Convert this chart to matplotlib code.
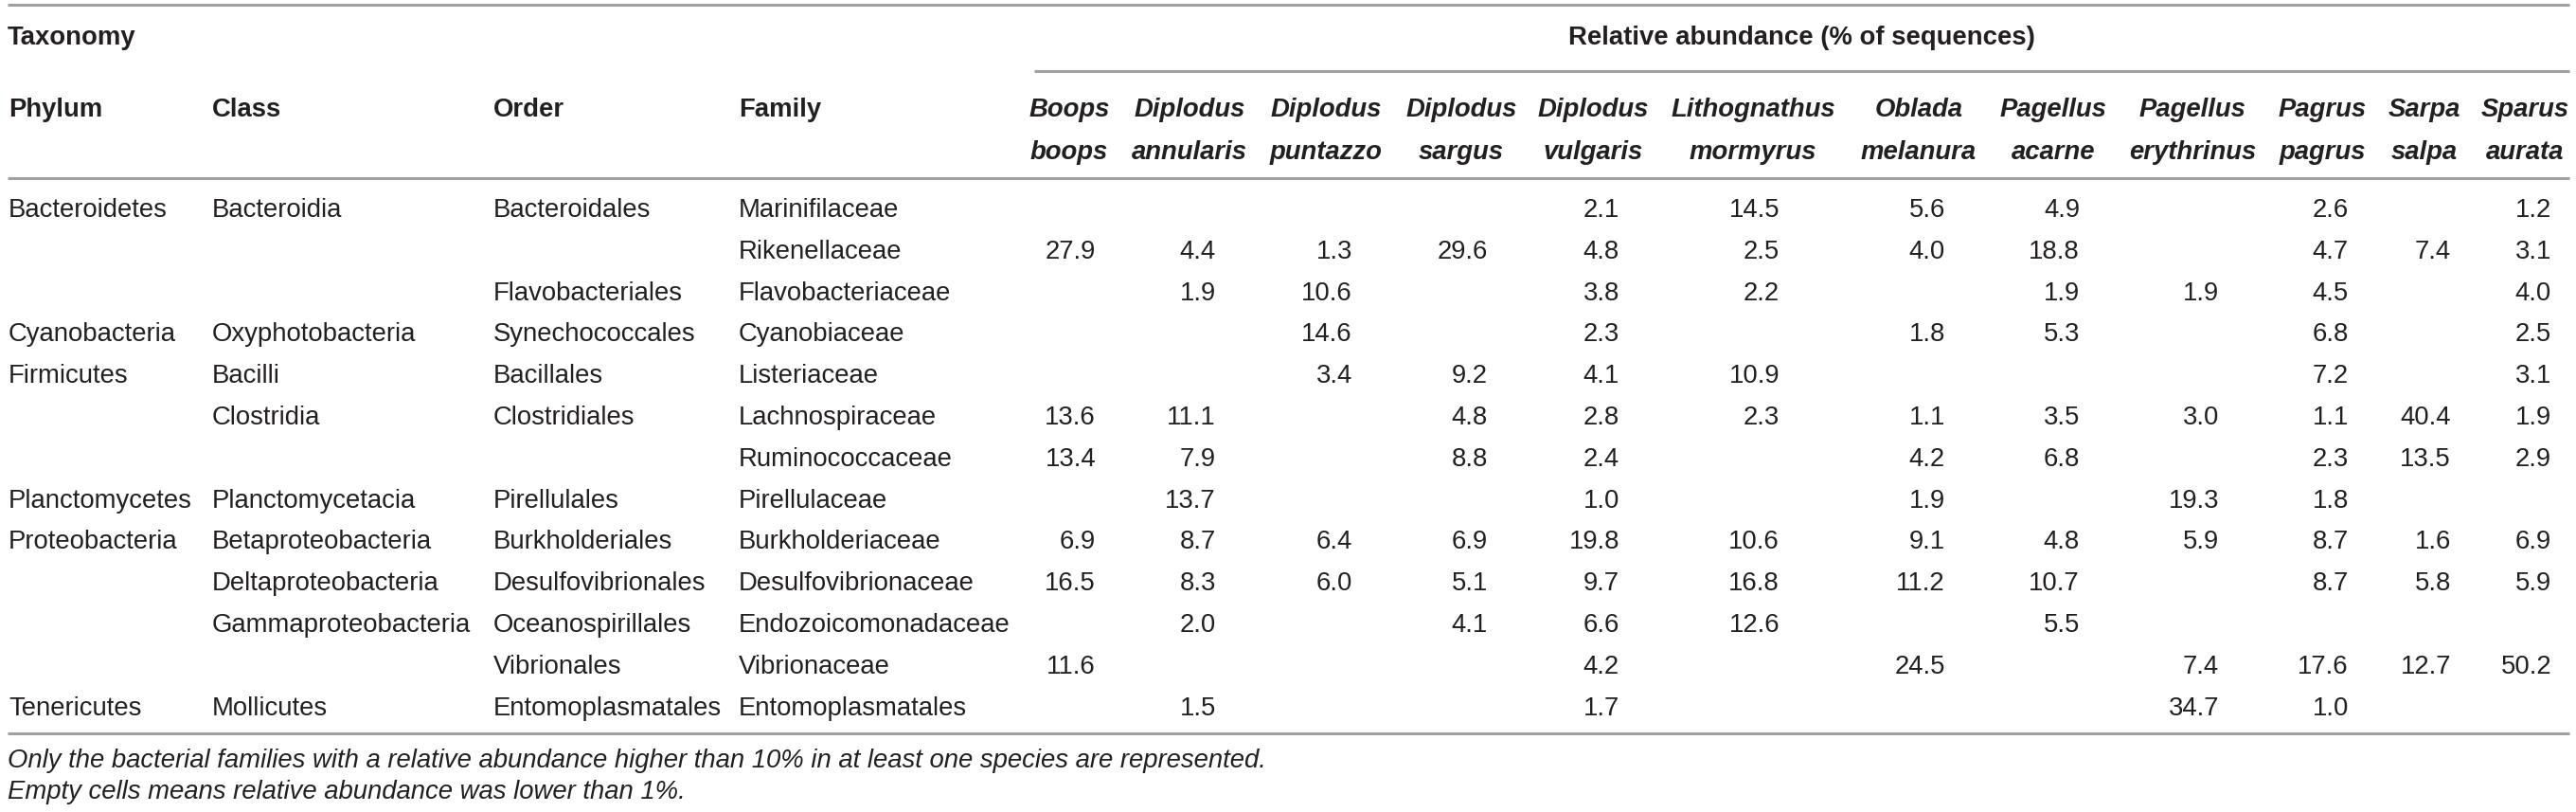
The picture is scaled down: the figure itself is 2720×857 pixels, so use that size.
import matplotlib
matplotlib.use("Agg")
import matplotlib.pyplot as plt

# ---------------- data ----------------
phylum = ["Bacteroidetes", "", "", "Cyanobacteria", "Firmicutes", "", "",
          "Planctomycetes", "Proteobacteria", "", "", "", "Tenericutes"]
klass = ["Bacteroidia", "", "", "Oxyphotobacteria", "Bacilli", "Clostridia", "",
         "Planctomycetacia", "Betaproteobacteria", "Deltaproteobacteria",
         "Gammaproteobacteria", "", "Mollicutes"]
order = ["Bacteroidales", "", "Flavobacteriales", "Synechococcales", "Bacillales",
         "Clostridiales", "", "Pirellulales", "Burkholderiales", "Desulfovibrionales",
         "Oceanospirillales", "Vibrionales", "Entomoplasmatales"]
family = ["Marinifilaceae", "Rikenellaceae", "Flavobacteriaceae", "Cyanobiaceae",
          "Listeriaceae", "Lachnospiraceae", "Ruminococcaceae", "Pirellulaceae",
          "Burkholderiaceae", "Desulfovibrionaceae", "Endozoicomonadaceae",
          "Vibrionaceae", "Entomoplasmatales"]

genus = ["Boops", "Diplodus", "Diplodus", "Diplodus", "Diplodus", "Lithognathus",
         "Oblada", "Pagellus", "Pagellus", "Pagrus", "Sarpa", "Sparus"]
epithet = ["boops", "annularis", "puntazzo", "sargus", "vulgaris", "mormyrus",
           "melanura", "acarne", "erythrinus", "pagrus", "salpa", "aurata"]

N = None
boops_boops        = [N, 27.9, N, N, N, 13.6, 13.4, N, 6.9, 16.5, N, 11.6, N]
diplodus_annularis = [N, 4.4, 1.9, N, N, 11.1, 7.9, 13.7, 8.7, 8.3, 2.0, N, 1.5]
diplodus_puntazzo  = [N, 1.3, 10.6, 14.6, 3.4, N, N, N, 6.4, 6.0, N, N, N]
diplodus_sargus    = [N, 29.6, N, N, 9.2, 4.8, 8.8, N, 6.9, 5.1, 4.1, N, N]
diplodus_vulgaris  = [2.1, 4.8, 3.8, 2.3, 4.1, 2.8, 2.4, 1.0, 19.8, 9.7, 6.6, 4.2, 1.7]
litho_mormyrus     = [14.5, 2.5, 2.2, N, 10.9, 2.3, N, N, 10.6, 16.8, 12.6, N, N]
oblada_melanura    = [5.6, 4.0, N, 1.8, N, 1.1, 4.2, 1.9, 9.1, 11.2, N, 24.5, N]
pagellus_acarne    = [4.9, 18.8, 1.9, 5.3, N, 3.5, 6.8, N, 4.8, 10.7, 5.5, N, N]
pagellus_erythr    = [N, N, 1.9, N, N, 3.0, N, 19.3, 5.9, N, N, 7.4, 34.7]
pagrus_pagrus      = [2.6, 4.7, 4.5, 6.8, 7.2, 1.1, 2.3, 1.8, 8.7, 8.7, N, 17.6, 1.0]
sarpa_salpa        = [N, 7.4, N, N, N, 40.4, 13.5, N, 1.6, 5.8, N, 12.7, N]
sparus_aurata      = [1.2, 3.1, 4.0, 2.5, 3.1, 1.9, 2.9, N, 6.9, 5.9, N, 50.2, N]

species_values = [boops_boops, diplodus_annularis, diplodus_puntazzo, diplodus_sargus,
                  diplodus_vulgaris, litho_mormyrus, oblada_melanura, pagellus_acarne,
                  pagellus_erythr, pagrus_pagrus, sarpa_salpa, sparus_aurata]

title_left = "Taxonomy"
title_right = "Relative abundance (% of sequences)"
tax_headers = ["Phylum", "Class", "Order", "Family"]
footnotes = ["Only the bacterial families with a relative abundance higher than 10% in at least one species are represented.",
             "Empty cells means relative abundance was lower than 1%."]

# ---------------- layout ----------------
W, H = 2720, 857
FAM = ["Liberation Sans", "DejaVu Sans"]
FS = 19.8
TXT = "#231f20"
LINE = "#a0a0a0"

fig = plt.figure(figsize=(W / 100, H / 100), dpi=100)
ax = fig.add_axes([0, 0, 1, 1])
ax.set_xlim(0, W)
ax.set_ylim(H, 0)
ax.axis("off")

tax_x = [9, 224, 521, 780]
col_centers = [1129, 1256, 1400, 1543, 1682, 1851, 2026, 2168, 2315, 2452, 2560, 2666]
val_offset = 28
row0, drow = 219, 43.83
cap_half = 9.85

def t(x, yc, s, ha="left", weight="normal", style="normal", size=FS):
    ax.text(x, yc + cap_half * size / FS, s, ha=ha, va="baseline", fontsize=size,
            family=FAM, weight=weight, style=style, color=TXT)

# lines
lw = 2.2
ax.plot([8, 2713], [5, 5], color=LINE, lw=lw, solid_capstyle="butt")
ax.plot([1092, 2713], [75, 75], color=LINE, lw=lw, solid_capstyle="butt")
ax.plot([8, 2713], [188, 188], color=LINE, lw=lw, solid_capstyle="butt")
ax.plot([8, 2713], [774, 774], color=LINE, lw=lw, solid_capstyle="butt")

# headers
t(8, 37, title_left, weight="bold")
t((1092 + 2713) / 2, 37, title_right, ha="center", weight="bold")
for x, h in zip(tax_x, tax_headers):
    t(x, 113, h, weight="bold")
for c, g, e in zip(col_centers, genus, epithet):
    t(c, 113, g, ha="center", weight="bold", style="italic")
    t(c, 158, e, ha="center", weight="bold", style="italic")

# body
for i in range(len(family)):
    y = row0 + drow * i
    for x, col in zip(tax_x, [phylum, klass, order, family]):
        if col[i]:
            t(x, y, col[i])
    for c, vals in zip(col_centers, species_values):
        v = vals[i]
        if v is not None:
            t(c + val_offset, y, f"{v:.1f}", ha="right")

# footnotes
t(8, 800, footnotes[0], style="italic")
t(8, 833, footnotes[1], style="italic")

fig.savefig("out.png", dpi=100, facecolor="white")
